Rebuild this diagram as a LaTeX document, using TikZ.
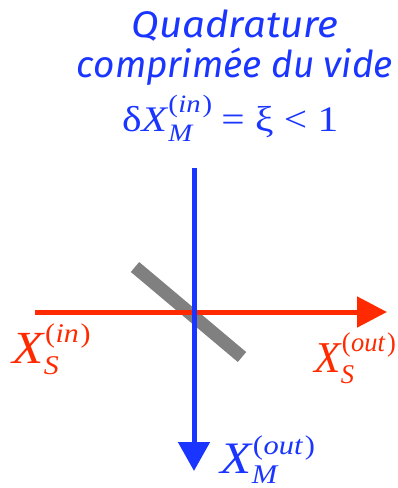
\documentclass[tikz,border=0pt]{standalone}
\usepackage{fontspec}
\setmainfont{Liberation Serif}
\newfontfamily\titlefont{Fira Sans}
\usetikzlibrary{arrows.meta}
\definecolor{myblue}{RGB}{26,53,255}
\definecolor{myred}{RGB}{255,42,0}
\definecolor{mygray}{RGB}{128,128,128}
% #1 base, #2 sub, #3 sup, #4 size, #5 script size, #6 raise, #7 lower, #8 sub kern
\newcommand{\XL}[8]{\fontsize{#4}{#4}\selectfont\textit{#1}\rlap{\kern#8\raisebox{-#7}{\fontsize{#5}{#5}\selectfont\textit{#2}}}\raisebox{#6}{\fontsize{#5}{#5}\selectfont(\kern0.5pt\textit{#3}\kern1.5pt)}}
\tikzset{
  ttl/.style={inner sep=0pt, text=myblue, font=\titlefont\itshape\fontsize{37}{37}\selectfont, anchor=base},
  lab/.style={inner sep=0pt, anchor=base west},
  beam/.style={line width=5pt},
  plate/.style={line width=13pt, mygray}
}
\begin{document}
\begin{tikzpicture}[x=1pt,y=-1pt]
\useasboundingbox (0,0) rectangle (398,488);
% title
\node[ttl] (q1) at (235,37) {\scalebox{1.09}[1]{Quadrature}};
\node[ttl] (q2) at (235,77) {comprimée du vide};
\node[lab, text=myblue, font=\fontsize{36}{36}\selectfont] (q3) at (122,131)
  {\scalebox{1.15}[1]{δ\XL{X}{M}{in}{36pt}{25pt}{19pt}{10pt}{0pt}\hspace{8pt}= ξ < 1}};
% geometry
\coordinate (g1) at (135,267);
\coordinate (g2) at (242,357);
\coordinate (r1) at (35,312);
\coordinate (r2) at (387,312);
\coordinate (b1) at (194,168);
\coordinate (b2) at (194,471);
\draw[plate] (g1) -- (g2);
\draw[beam, myred, -{Triangle[length=30pt,width=30pt]}] (r1) -- (r2);
\draw[beam, myblue, -{Triangle[length=29pt,width=31pt]}] (b1) -- (b2);
% labels
\node[lab, text=myred] (xsin) at (12,363) {\scalebox{1.11}[1]{\XL{X}{S}{in}{46pt}{27pt}{21pt}{11pt}{-1pt}}};
\node[lab, text=myred] (xsout) at (314,372) {\scalebox{0.98}[1]{\XL{X}{S}{out}{44pt}{27pt}{21pt}{11pt}{-1pt}}};
\node[lab, text=myblue] (xmout) at (220,473) {\scalebox{1.13}[1]{\XL{X}{M}{out}{45pt}{27pt}{19pt}{10pt}{-1pt}}};
\end{tikzpicture}
\end{document}
